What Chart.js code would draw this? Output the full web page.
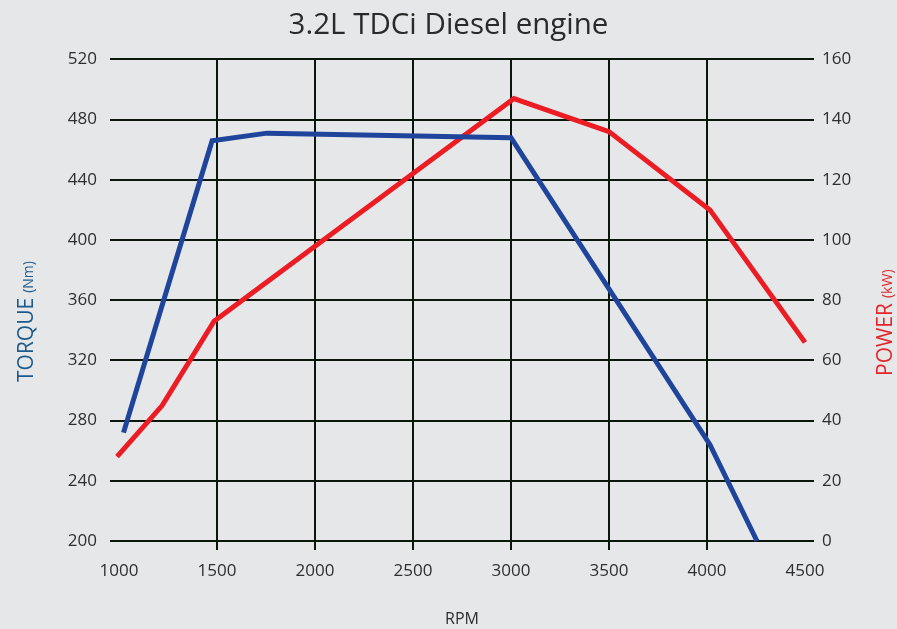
<!DOCTYPE html>
<html lang="en">
<head>
    <meta charset="UTF-8">
    <title>3.2L TDCi Diesel engine</title>
    <script src="https://cdn.jsdelivr.net/npm/chart.js"></script>
    <style>
        html, body {
            margin: 0;
            padding: 0;
            background: #e6e7e8;
        }
        .wrap {
            width: 897px;
            height: 629px;
        }
    </style>
</head>
<body>
    <div class="wrap">
        <canvas id="engineChart" width="897" height="629"></canvas>
    </div>

    <script>
        // torque curve (Nm) vs rpm
        const torqueRpm = [1023, 1475, 1755, 3000, 4015, 4255];
        const torqueNm = [272, 466, 471, 468, 264, 200];

        // power curve (kW) vs rpm
        const powerRpm = [990, 1220, 1485, 3015, 3500, 4015, 4500];
        const powerKw = [28, 45, 73, 147, 136, 110, 66];

        const rpmTicks = [1000, 1500, 2000, 2500, 3000, 3500, 4000, 4500];
        const torqueTicks = [200, 240, 280, 320, 360, 400, 440, 480, 520];
        const powerTicks = [0, 20, 40, 60, 80, 100, 120, 140, 160];

        const FONT = "'Open Sans', sans-serif";
        const gridCol = '#0b160d';
        const textCol = '#2e2e2e';
        const blue = '#1f449b';
        const red = '#ec1c24';

        const toPoints = (xs, ys) => xs.map((x, i) => ({ x: x, y: ys[i] }));
        const plain = v => String(v);

        // side titles: big word + small unit, rotated
        const sideTitles = {
            id: 'sideTitles',
            afterDraw(chart) {
                const c = chart.ctx;
                const drawTitle = (x, y, word, unit, color) => {
                    c.save();
                    c.translate(x, y);
                    c.rotate(-Math.PI / 2);
                    c.fillStyle = color;
                    c.textBaseline = 'alphabetic';
                    c.textAlign = 'left';
                    c.font = '21px ' + FONT;
                    c.fillText(word, 0, 0);
                    const w = c.measureText(word).width;
                    c.font = '14px ' + FONT;
                    c.fillText(unit, w + 5, 0);
                    c.restore();
                };
                drawTitle(33, 382, 'TORQUE', '(Nm)', '#1b5a8c');
                drawTitle(892, 376, 'POWER', '(kW)', '#e2262c');
            }
        };

        const ctx = document.getElementById('engineChart').getContext('2d');

        new Chart(ctx, {
            type: 'line',
            data: {
                datasets: [
                    {
                        label: 'Torque',
                        data: toPoints(torqueRpm, torqueNm),
                        borderColor: blue,
                        borderWidth: 5,
                        pointRadius: 0,
                        borderJoinStyle: 'miter',
                        clip: false,
                        yAxisID: 'y'
                    },
                    {
                        label: 'Power',
                        data: toPoints(powerRpm, powerKw),
                        borderColor: red,
                        borderWidth: 5,
                        pointRadius: 0,
                        borderJoinStyle: 'miter',
                        clip: false,
                        yAxisID: 'y1'
                    }
                ]
            },
            options: {
                responsive: false,
                animation: false,
                layout: { padding: { top: 1 } },
                scales: {
                    x: {
                        type: 'linear',
                        min: 1000,
                        max: 4500,
                        afterBuildTicks: s => { s.ticks = rpmTicks.map(v => ({ value: v })); },
                        afterFit: s => { s.height = 88; },
                        border: { display: false },
                        grid: {
                            color: c => (c.index === 0 || c.index === rpmTicks.length - 1) ? 'rgba(0,0,0,0)' : gridCol,
                            lineWidth: 2,
                            tickLength: 9
                        },
                        ticks: {
                            color: textCol,
                            font: { family: FONT, size: 17 },
                            padding: 11,
                            maxRotation: 0,
                            callback: plain
                        },
                        title: {
                            display: true,
                            text: 'RPM',
                            color: textCol,
                            font: { family: FONT, size: 16 },
                            padding: 0
                        }
                    },
                    y: {
                        position: 'left',
                        min: 200,
                        max: 520,
                        afterBuildTicks: s => { s.ticks = torqueTicks.map(v => ({ value: v })); },
                        afterFit: s => { s.width = 119; },
                        border: { display: false },
                        grid: { color: gridCol, lineWidth: 2, tickLength: 9 },
                        ticks: {
                            color: textCol,
                            font: { family: FONT, size: 17 },
                            padding: 13,
                            callback: plain
                        }
                    },
                    y1: {
                        position: 'right',
                        min: 0,
                        max: 160,
                        afterBuildTicks: s => { s.ticks = powerTicks.map(v => ({ value: v })); },
                        afterFit: s => { s.width = 92; },
                        border: { display: false },
                        grid: { color: gridCol, lineWidth: 2, tickLength: 9, drawOnChartArea: false },
                        ticks: {
                            color: textCol,
                            font: { family: FONT, size: 17 },
                            padding: 8,
                            callback: plain
                        }
                    }
                },
                plugins: {
                    legend: { display: false },
                    tooltip: { enabled: false },
                    title: {
                        display: true,
                        text: '3.2L TDCi Diesel engine',
                        color: '#2a2a2a',
                        font: { family: FONT, size: 29.5, weight: 'normal' },
                        padding: { top: 7, bottom: 16 }
                    }
                }
            },
            plugins: [sideTitles]
        });
    </script>
</body>
</html>
